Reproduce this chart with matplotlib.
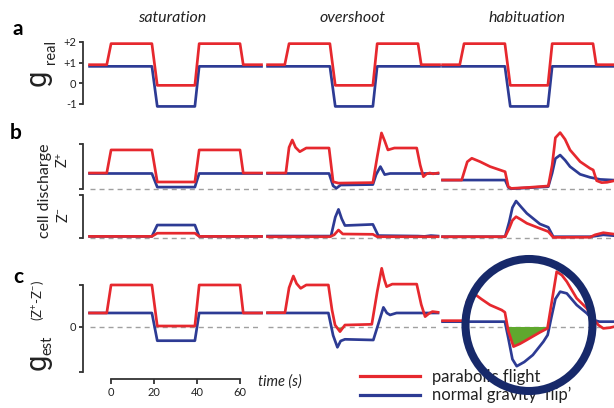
import matplotlib
matplotlib.use("Agg")
import matplotlib.pyplot as plt
from matplotlib.patches import Ellipse
from matplotlib.lines import Line2D

FONT = 'Lato'
plt.rcParams['font.family'] = [FONT, 'DejaVu Sans']
plt.rcParams['mathtext.fontset'] = 'custom'
plt.rcParams['mathtext.rm'] = FONT
plt.rcParams['mathtext.it'] = FONT + ':italic'
plt.rcParams['mathtext.default'] = 'regular'

# ---------------- data ----------------
columns = ["saturation", "overshoot", "habituation"]
legend_labels = ["parabolic flight", "normal gravity \u2018flip\u2019"]
time_ticks = [0, 20, 40, 60]
greal_ticks = [-1, 0, 1, 2]
greal_ticklabels = ["-1", "0", "+1", "+2"]

# stimulus (g_real), identical in every column
t_red_step = [-10, -2, 0, 19, 21.5, 39, 41, 60, 61.5, 70]
t_blue_step = [-10, 19, 21.5, 39, 41, 70]
greal_red = [0.9, 0.9, 1.92, 1.92, -0.1, -0.1, 1.92, 1.92, 0.9, 0.9]
greal_blue = [0.82, 0.82, -1.12, -1.12, 0.82, 0.82]

# saturation
sat_zp_red = [1.0, 1.0, 2.44, 2.44, 0.44, 0.44, 2.44, 2.44, 1.0, 1.0]
sat_zp_blue = [0.97, 0.97, 0.12, 0.12, 0.97, 0.97]
sat_zm_red = [0.1, 0.1, 0.3, 0.3, 0.1, 0.1]
sat_zm_blue = [0.1, 0.1, 0.81, 0.81, 0.1, 0.1]
sat_ge_red = [1.0, 1.0, 3.0, 3.0, 0.07, 0.07, 3.0, 3.0, 1.0, 1.0]
sat_ge_blue = [1.0, 1.0, -0.98, -0.98, 1.0, 1.0]

# overshoot
ov_zp_red_t = [-10, -1.5, 0, 1.5, 3, 5, 8, 18.6, 20.5, 23, 39, 41, 43, 44.5, 46, 49, 59.4, 61, 62.5, 64, 65.5, 67, 69.3]
ov_zp_red = [1.0, 1.0, 2.6, 3.06, 2.6, 2.33, 2.56, 2.56, 0.45, 0.37, 0.4, 2.0, 3.5, 3.0, 2.44, 2.56, 2.56, 1.5, 0.77, 0.95, 1.0, 0.95, 1.0]
ov_zp_blue_t = [-10, 18.6, 20.5, 22, 24, 39, 40.5, 42.5, 44.5, 47, 69.3]
ov_zp_blue = [0.97, 0.97, 0.2, 0.05, 0.25, 0.28, 0.9, 1.4, 0.9, 0.97, 0.97]
ov_zm_red_t = [-10, 19, 21, 23, 25, 39, 41, 69.3]
ov_zm_red = [0.08, 0.08, 0.2, 0.5, 0.25, 0.23, 0.08, 0.08]
ov_zm_blue_t = [-10, 19.5, 21.5, 23, 24.5, 26, 39, 41.5, 60, 63, 66, 69.3]
ov_zm_blue = [0.12, 0.12, 1.3, 1.79, 1.2, 0.78, 0.85, 0.15, 0.12, 0.1, 0.15, 0.12]
ov_ge_red_t = [-10, -1.9, 0, 2, 3.5, 5.4, 8, 18.3, 20, 21.4, 23.7, 26, 38.5, 41, 43.1, 44.3, 45.4, 48, 59.4, 61.5, 63.3, 65, 66.7, 69.3]
ov_ge_red = [1.02, 1.02, 2.8, 3.64, 3.1, 2.76, 3.0, 3.0, 1.2, 0.14, -0.33, 0.14, 0.19, 2.5, 4.19, 3.4, 2.88, 3.06, 3.06, 1.6, 0.74, 0.95, 1.1, 1.05]
ov_ge_blue_t = [-10, 18.3, 20.5, 22.5, 24, 26, 39.2, 41.5, 43.9, 45.5, 47, 50, 69.3]
ov_ge_blue = [1.0, 1.0, -0.6, -1.45, -1.0, -0.88, -0.93, 0.2, 1.4, 1.0, 0.86, 1.0, 1.0]

# habituation
hab_zp_red_t = [-10, -1.1, 1.5, 3.6, 7.4, 12.1, 16.7, 19.1, 20.6, 22, 30, 39.2, 41, 42.5, 44.7, 47, 49.3, 54, 58.6, 60.1, 61.7, 64, 66.5, 69.3]
hab_zp_red = [0.56, 0.56, 1.7, 1.92, 1.71, 1.4, 1.19, 1.08, 0.14, 0.04, 0.1, 0.19, 1.5, 3.2, 3.52, 3.1, 2.44, 1.71, 1.29, 1.19, 0.52, 0.4, 0.42, 0.5]
hab_zp_blue_t = [-10, 19.1, 20.6, 22, 30, 39.2, 41, 42.5, 44.7, 47, 49.3, 54, 58.6, 63.3, 69.3]
hab_zp_blue = [0.56, 0.56, 0.1, 0.02, 0.08, 0.15, 1.0, 1.9, 2.12, 1.8, 1.4, 0.92, 0.73, 0.6, 0.56]
hab_zm_t = [-10, 19.1, 21, 22.5, 24.2, 26.5, 29.2, 35.3, 39.2, 41.5, 58.6, 61, 64.8, 69.3]
hab_zm_red = [0.08, 0.08, 0.6, 1.1, 1.33, 1.15, 0.92, 0.6, 0.4, 0.04, 0.05, 0.2, 0.33, 0.25]
hab_zm_blue = [0.08, 0.08, 1.0, 1.9, 2.31, 1.95, 1.54, 0.875, 0.67, 0.08, 0.08, 0.12, 0.2, 0.15]
hab_ge_red_t = [-10, -0.5, 1.5, 4.5, 8, 12.1, 17.5, 19, 20.6, 23, 26, 29.1, 35.3, 38.8, 40.5, 43.1, 45.5, 47.8, 52.4, 57.1, 59.4, 62.5, 64.8, 67.9, 69.3]
hab_ge_red = [0.45, 0.45, 1.9, 2.4, 2.0, 1.57, 1.21, 1.05, -0.3, -1.4, -1.2, -0.93, -0.38, -0.1, 1.5, 3.95, 3.7, 3.24, 2.05, 1.33, 0.74, 0.14, -0.1, -0.05, 0.0]
hab_ge_blue_t = [-10, 19, 20.6, 22.5, 24.5, 28, 32, 36.9, 38.9, 40.5, 42.5, 44.7, 47.8, 52.4, 57.1, 60, 63, 69.3]
hab_ge_blue = [0.38, 0.38, -0.8, -2.3, -2.8, -2.5, -2.0, -1.05, -0.57, 0.6, 2.0, 2.52, 2.4, 1.57, 0.98, 0.5, 0.38, 0.38]

# table of curves: (column, row) -> (t_red, red, t_blue, blue)
curves = {
    (0, 0): (t_red_step, greal_red, t_blue_step, greal_blue),
    (1, 0): (t_red_step, greal_red, t_blue_step, greal_blue),
    (2, 0): (t_red_step, greal_red, t_blue_step, greal_blue),
    (0, 1): (t_red_step, sat_zp_red, t_blue_step, sat_zp_blue),
    (0, 2): (t_blue_step, sat_zm_red, t_blue_step, sat_zm_blue),
    (0, 3): (t_red_step, sat_ge_red, t_blue_step, sat_ge_blue),
    (1, 1): (ov_zp_red_t, ov_zp_red, ov_zp_blue_t, ov_zp_blue),
    (1, 2): (ov_zm_red_t, ov_zm_red, ov_zm_blue_t, ov_zm_blue),
    (1, 3): (ov_ge_red_t, ov_ge_red, ov_ge_blue_t, ov_ge_blue),
    (2, 1): (hab_zp_red_t, hab_zp_red, hab_zp_blue_t, hab_zp_blue),
    (2, 2): (hab_zm_t, hab_zm_red, hab_zm_t, hab_zm_blue),
    (2, 3): (hab_ge_red_t, hab_ge_red, hab_ge_blue_t, hab_ge_blue),
}

# ---------------- style / layout ----------------
W, H = 614, 408
RED = '#e6282e'
BLUE = '#2d3b94'
GREEN = '#5fa82e'
NAVY = '#17296a'
DASH = '#a0a0a0'
SPINE = '#333333'
TXT = '#222222'
LW = 1.95

col_left = [90, 268, 443]
col_width = 170
xlim = (-9.8, 69.3)
# row: (top px, bottom px, ymin, ymax)
rows = [
    (36, 112, -1.39, 2.29),
    (140, 194, -0.31, 3.06),
    (194, 242, -0.25, 2.75),
    (262, 376, -3.5, 4.64),
]

fig = plt.figure(figsize=(W / 100, H / 100), dpi=100)


def px_axes(left, top, width, height):
    return fig.add_axes([left / W, 1 - (top + height) / H, width / W, height / H])


def ftext(x, y, s, **kw):
    kw.setdefault('color', TXT)
    return fig.text(x / W, 1 - y / H, s, **kw)


for ci in range(3):
    for ri, (top, bot, ymin, ymax) in enumerate(rows):
        ax = px_axes(col_left[ci], top, col_width, bot - top)
        ax.set_xlim(*xlim)
        ax.set_ylim(ymin, ymax)
        ax.patch.set_visible(False)
        for s in ax.spines.values():
            s.set_visible(False)
        ax.set_xticks([])
        ax.set_yticks([])
        tr, vr, tb, vb = curves[(ci, ri)]
        if ri > 0:
            ax.axhline(0, color=DASH, lw=1.0, dashes=(3.6, 2.9), zorder=1)
        if ri == 3 and ci > 0:
            ax.fill_between(tr, vr, 0, where=[v < 0 for v in vr], interpolate=True,
                            color=GREEN, lw=0, zorder=2)
        ax.plot(tb, vb, color=BLUE, lw=LW, solid_joinstyle='round', zorder=3, clip_on=False)
        ax.plot(tr, vr, color=RED, lw=LW, solid_joinstyle='round', zorder=4, clip_on=False)

        if ci == 0:
            sp = ax.spines['left']
            sp.set_visible(True)
            sp.set_position(('outward', 5))
            sp.set_color(SPINE)
            sp.set_linewidth(1.3)
            ax.tick_params(axis='y', length=3.2, width=1.3, color=SPINE,
                           labelsize=8, labelcolor=TXT, pad=1.5)
            if ri == 0:
                sp.set_bounds(-1, 2)
                ax.set_yticks(greal_ticks)
                ax.set_yticklabels(greal_ticklabels)
            elif ri == 1:
                sp.set_bounds(0, 2.8)
                ax.set_yticks([0, 2.8])
                ax.set_yticklabels(['', ''])
            elif ri == 2:
                sp.set_bounds(0, 2.7)
                ax.set_yticks([0, 2.7])
                ax.set_yticklabels(['', ''])
            else:
                sp.set_bounds(-3.25, 3.0)
                ax.set_yticks([-3.25, 0, 3.0])
                ax.set_yticklabels(['', '0', ''])
                bsp = ax.spines['bottom']
                bsp.set_visible(True)
                bsp.set_position(('outward', 2.2))
                bsp.set_bounds(0, 60)
                bsp.set_color(SPINE)
                bsp.set_linewidth(1.3)
                ax.set_xticks(time_ticks)
                ax.set_xticklabels([str(t) for t in time_ticks])
                ax.tick_params(axis='x', length=3.5, width=1.3, color=SPINE,
                               labelsize=8, labelcolor=TXT, pad=2)

# column titles
for x, name in zip([172, 353, 527], columns):
    ftext(x, 18, name, ha='center', va='center', fontsize=11.5, style='italic')

# panel letters
ftext(18, 29, 'a', ha='center', va='center', fontsize=15, fontweight='bold', color='black')
ftext(16, 133, 'b', ha='center', va='center', fontsize=15, fontweight='bold', color='black')
ftext(18, 277, 'c', ha='center', va='center', fontsize=15, fontweight='bold', color='black')

# row labels
GFONT = ['Roboto', 'DejaVu Sans']
ftext(38, 78, 'g', rotation=90, ha='center', va='center', fontsize=21, family=GFONT)
ftext(51, 52, 'real', rotation=90, ha='center', va='center', fontsize=10.5)
ftext(45, 191, 'cell discharge', rotation=90, ha='center', va='center', fontsize=11.5)
ftext(63, 160, 'Z$^{+}$', rotation=90, ha='center', va='center', fontsize=10.5)
ftext(63, 215, 'Z$^{-}$', rotation=90, ha='center', va='center', fontsize=10.5)
ftext(38, 362, 'g', rotation=90, ha='center', va='center', fontsize=21, family=GFONT)
ftext(47, 345, 'est', rotation=90, ha='center', va='center', fontsize=10.5)
ftext(38, 301, '(Z$^{+}$-Z$^{-}$)', rotation=90, ha='center', va='center', fontsize=9.5)

# time label
ftext(258, 382, 'time (s)', ha='left', va='center', fontsize=10.5, style='italic')

# legend
handles = [Line2D([], [], color=RED, lw=2.3), Line2D([], [], color=BLUE, lw=2.3)]
fig.legend(handles, legend_labels, loc='upper left', bbox_to_anchor=(360 / W, 1 - 369 / H),
           frameon=False, fontsize=12, handlelength=3.6, handletextpad=0.7,
           labelspacing=0.12, borderpad=0, borderaxespad=0, labelcolor=TXT)

# highlight circle
fig.add_artist(Ellipse((529 / W, 1 - 325 / H), width=127 / W, height=132 / H,
                       transform=fig.transFigure, fill=False, ec=NAVY, lw=5.8, zorder=10))

fig.savefig('out.png', dpi=100)
